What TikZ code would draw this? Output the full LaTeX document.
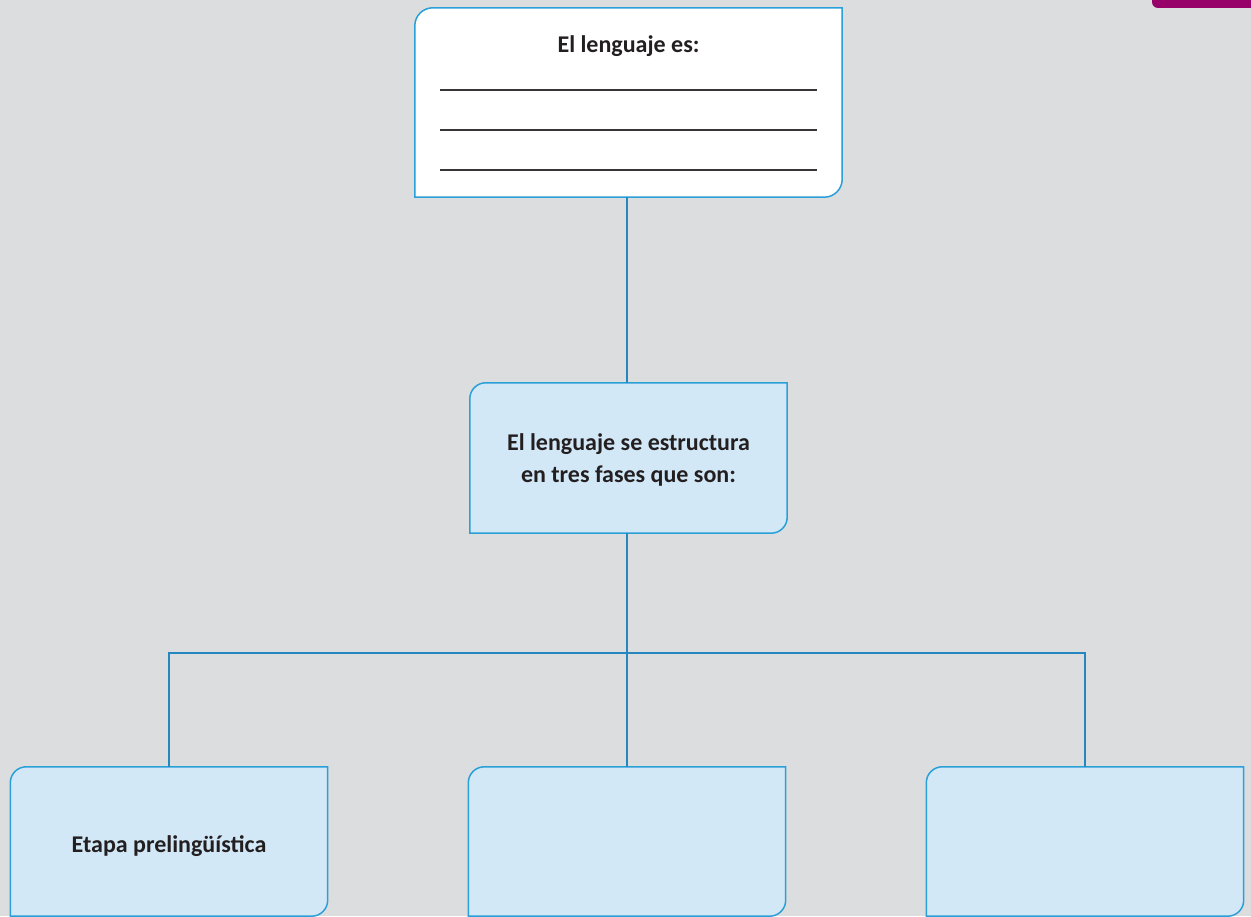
\documentclass[tikz,border=0pt]{standalone}
\usepackage{fontspec}
\setmainfont{Carlito}
\usetikzlibrary{calc,backgrounds}
\definecolor{pagebg}{HTML}{DCDDDF}
\definecolor{cardfill}{HTML}{D3E8F6}
\definecolor{cardline}{HTML}{2B9FD8}
\definecolor{linkline}{HTML}{2487BF}
\definecolor{inktext}{HTML}{231F20}
\definecolor{tabmagenta}{HTML}{960068}
\tikzset{
  card/.style={draw=none, inner sep=0pt, align=center, text=inktext,
    font=\fontsize{24}{32}\selectfont\bfseries},
  cardframe/.style={draw=cardline, line width=1.5pt},
  link/.style={draw=linkline, line width=1.5pt},
  writeline/.style={draw=inktext!90, line width=1.6pt},
}
% frame with rounded top-left and bottom-right corners
\newcommand{\cardshape}[3]{% name, fill, radius
  \path[cardframe, fill=#2]
    (#1.south west) -- ($(#1.north west)+(0,-#3)$)
    arc[start angle=180, end angle=90, radius=#3]
    -- (#1.north east) -- ($(#1.south east)+(0,#3)$)
    arc[start angle=0, end angle=-90, radius=#3] -- cycle;}
\begin{document}
\begin{tikzpicture}[x=1pt, y=1pt]
  % boxes
  \node[card, minimum width=427pt, minimum height=189pt] (def) at (628.5,813.5) {};
  \node[card, minimum width=317pt, minimum height=150pt] (phases) at (628.5,458) {};
  \node[card, anchor=base] (phasestext) at ($(phases.center)+(0,-25)$) {El lenguaje se estructura\\en tres fases que son:};
  \node[card, minimum width=317pt, minimum height=149pt, text height=26pt, text depth=4pt] (pre) at (169,74.5) {Etapa prelingüística};
  \node[card, minimum width=317pt, minimum height=149pt] (mid) at (627,74.5) {};
  \node[card, minimum width=317pt, minimum height=149pt] (post) at (1085,74.5) {};
  \node[card] (deftitle) at ($(def.north)+(0,-38)$) {El lenguaje es:};

  \begin{scope}[on background layer]
    \fill[pagebg] (0,0) rectangle (1251,916);
    % corner tab
    \fill[tabmagenta] (1152,916) -- (1152,914) arc[start angle=180, end angle=270, radius=6] -- (1251,908) -- (1251,916) -- cycle;

    \cardshape{def}{white}{18}
    \cardshape{phases}{cardfill}{16}
    \cardshape{pre}{cardfill}{16}
    \cardshape{mid}{cardfill}{16}
    \cardshape{post}{cardfill}{16}

    % connectors
    \coordinate (split) at (627,263);
    \draw[link] (def.south -| split) -- (phases.north -| split);
    \draw[link] (phases.south -| split) -- (split);
    \draw[link] (pre.north) |- (split) -| (post.north);
    \draw[link] (split) -- (mid.north);
  \end{scope}

  \foreach \d in {82,122,162}
    \draw[writeline] ($(def.north west)+(25,-\d)$) -- ($(def.north east)+(-25,-\d)$);
  \useasboundingbox (0,0) rectangle (1251,916);
\end{tikzpicture}
\end{document}
